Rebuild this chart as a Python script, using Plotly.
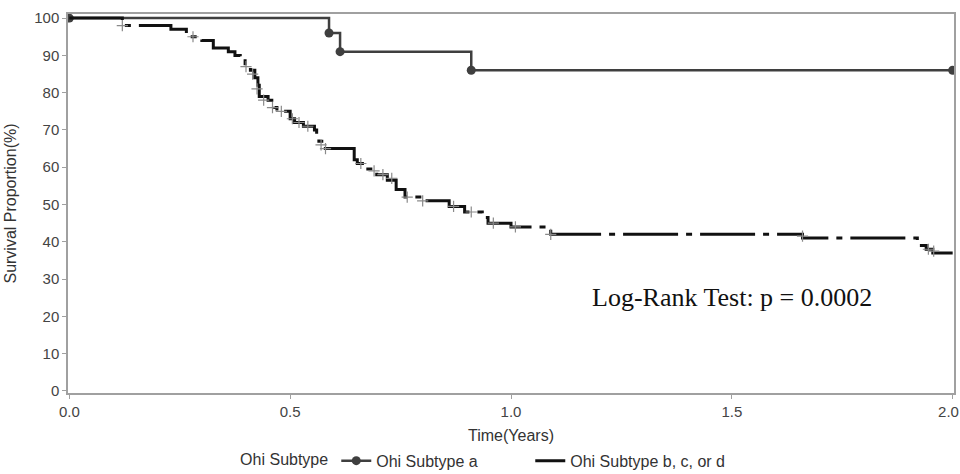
import plotly.graph_objects as go

# Ohi subtype a
t_a = [0.0, 0.588, 0.613, 0.91, 2.0]
s_a = [100, 96, 91, 86, 86]

# Ohi subtype b, c, or d (Kaplan-Meier steps)
t_b = [0.0, 0.12, 0.23, 0.265, 0.30, 0.326, 0.36, 0.375, 0.387, 0.398, 0.41, 0.42,
       0.427, 0.43, 0.45, 0.465, 0.47, 0.50, 0.51, 0.53, 0.555, 0.56, 0.565, 0.575,
       0.645, 0.652, 0.672, 0.696, 0.72, 0.74, 0.76, 0.81, 0.86, 0.895, 0.935, 0.948,
       1.0, 1.09, 1.66, 1.92, 1.94, 1.955, 2.0]
s_b = [100, 98, 97, 95, 94, 92, 91, 90, 89, 87, 86, 84,
       82, 79, 78, 76, 75, 73, 72, 71, 70, 68, 67, 65,
       62, 61, 59.5, 58, 56.5, 54, 52, 51, 49.5, 48, 46.5, 45,
       44, 42, 41, 39, 38, 37, 37]

# censored observations (subtype b, c, or d)
t_cens = [0.12, 0.28, 0.40, 0.415, 0.425, 0.44, 0.46, 0.48, 0.505, 0.52, 0.54, 0.57,
          0.58, 0.66, 0.69, 0.71, 0.73, 0.765, 0.80, 0.87, 0.91, 0.96, 1.01, 1.09,
          1.66, 1.945, 1.957]
s_cens = [98, 95, 87, 85, 81, 78, 76, 75, 73, 72, 71, 66,
          65, 61, 59, 58, 57, 52, 51, 49.5, 48, 45, 44, 42,
          41.5, 38, 37.5]

x_ticks = [0.0, 0.5, 1.0, 1.5, 2.0]
x_tick_labels = ["0.0", "0.5", "1.0", "1.5", "2.0"]
y_ticks = [0, 10, 20, 30, 40, 50, 60, 70, 80, 90, 100]

fig = go.Figure()
fig.add_trace(go.Scatter(
    x=t_a, y=s_a, mode="lines+markers", line_shape="hv",
    name="Ohi Subtype a",
    line=dict(color="#3f3f3f", width=2.5),
    marker=dict(color="#3f3f3f", size=9, symbol="circle"),
))
fig.add_trace(go.Scatter(
    x=t_b, y=s_b, mode="lines", line_shape="hv",
    name="Ohi Subtype b, c, or d",
    line=dict(color="#111111", width=3, dash="55px,8px,6px,8px"),
))
fig.add_trace(go.Scatter(
    x=t_cens, y=s_cens, mode="markers", showlegend=False,
    marker=dict(symbol="cross-thin", size=8, line=dict(color="#8a8a8a", width=1.2)),
))

fig.add_annotation(
    x=1.5, y=25, xref="x", yref="y", showarrow=False,
    text="Log-Rank Test: p = 0.0002",
    font=dict(family="Liberation Serif, Times New Roman, serif", size=26, color="#111111"),
)

axis_font = dict(family="Liberation Sans, Arial, sans-serif", size=15, color="#444444")
title_font = dict(family="Liberation Sans, Arial, sans-serif", size=16, color="#333333")

# keep the last tick label inside the page edge
tick_text = x_tick_labels[:-1] + [x_tick_labels[-1] + "\u00a0\u00a0"]

fig.update_layout(
    width=960, height=474,
    margin=dict(l=68, r=6, t=14, b=81),
    paper_bgcolor="white", plot_bgcolor="white",
    font=dict(family="Liberation Sans, Arial, sans-serif", size=16, color="#333333"),
    showlegend=True,
    legend=dict(
        orientation="h", x=0.192, xanchor="left",
        yref="container", y=0.028, yanchor="middle",
        title=dict(text="Ohi Subtype", font=title_font),
        font=title_font, itemwidth=30, entrywidth=149, entrywidthmode="pixels",
        bgcolor="rgba(0,0,0,0)",
    ),
    xaxis=dict(
        range=[-0.003, 2.003], tickvals=x_ticks, ticktext=tick_text,
        showgrid=False, zeroline=False, showline=True, mirror=True,
        linecolor="#a0a0a0", linewidth=1.5, ticks="outside", ticklen=4,
        tickcolor="#a0a0a0", tickfont=axis_font, ticklabeloverflow="allow",
        automargin=False,
        title=dict(text="Time(Years)", font=title_font, standoff=12),
    ),
    yaxis=dict(
        range=[-0.55, 101.1], tickvals=y_ticks,
        showgrid=False, zeroline=False, showline=True, mirror=True,
        linecolor="#a0a0a0", linewidth=1.5, ticks="outside", ticklen=4,
        tickcolor="#a0a0a0", tickfont=axis_font, automargin=False,
        title=dict(text="Survival Proportion(%)", font=title_font, standoff=14),
    ),
)

fig.write_html("out.html")
